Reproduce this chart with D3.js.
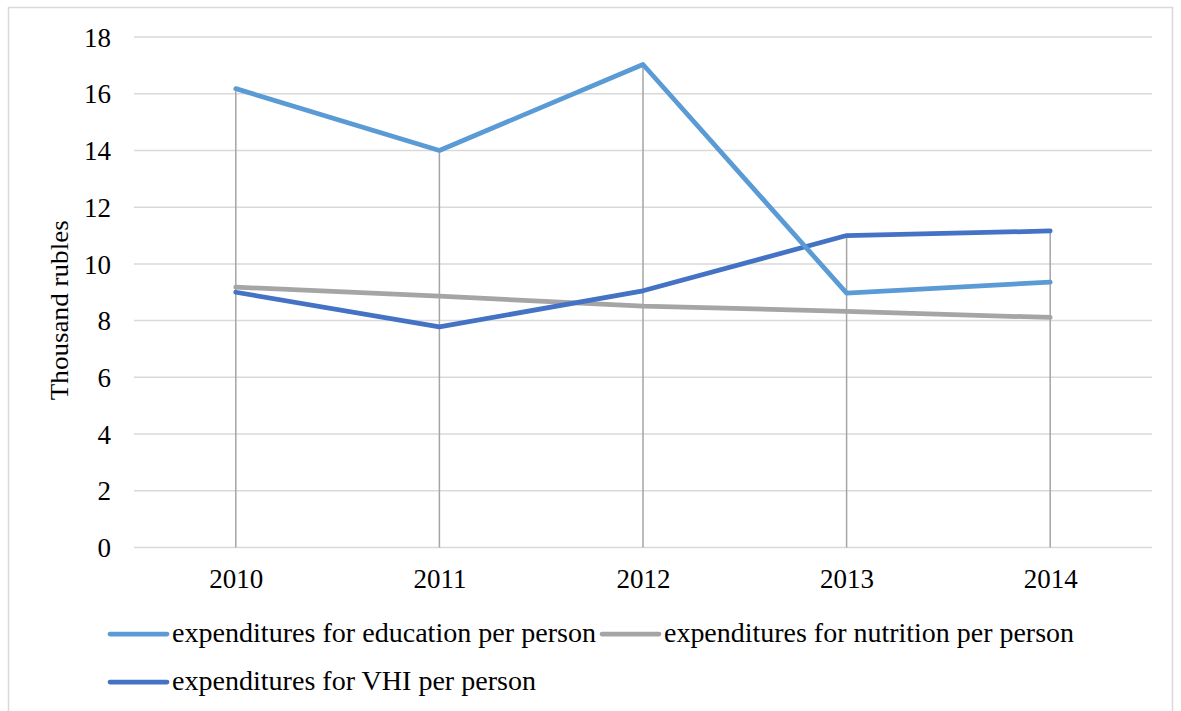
<!DOCTYPE html>
<html>
<head>
<meta charset="utf-8">
<script src="https://cdn.jsdelivr.net/npm/d3@7"></script>
<style>
  html, body { margin: 0; padding: 0; background: #fff; }
</style>
</head>
<body>
<svg id="chart" width="1181" height="711"></svg>
<script>
// Per-person expenditures, thousand rubles
const years = ["2010", "2011", "2012", "2013", "2014"];
const education = [16.18, 14.0, 17.03, 8.97, 9.36];
const nutrition = [9.18, 8.86, 8.51, 8.33, 8.11];
const vhi = [9.0, 7.78, 9.05, 11.0, 11.16];
const yTicks = [0, 2, 4, 6, 8, 10, 12, 14, 16, 18];

const series = [
  { name: "expenditures for education per person", values: education, color: "#5b9bd5" },
  { name: "expenditures for nutrition per person", values: nutrition, color: "#a5a5a5" },
  { name: "expenditures for VHI per person", values: vhi, color: "#4472c4" }
];

const FONT = "Liberation Serif";

const svg = d3.select("#chart");
const plot = { left: 134, right: 1152, top: 37, bottom: 547.5 };

// outer frame
svg.append("rect")
  .attr("x", 8.5).attr("y", 7.5)
  .attr("width", 1164).attr("height", 720)
  .attr("fill", "#fff").attr("stroke", "#d9d9d9").attr("stroke-width", 1.5);

const x = d3.scalePoint().domain(years).range([plot.left, plot.right]).padding(0.5);
const y = d3.scaleLinear().domain([0, 18]).range([plot.bottom, plot.top]);

// horizontal gridlines (including the zero line)
svg.append("g")
  .selectAll("line")
  .data(yTicks)
  .join("line")
  .attr("x1", plot.left).attr("x2", plot.right)
  .attr("y1", d => y(d)).attr("y2", d => y(d))
  .attr("stroke", "#d9d9d9").attr("stroke-width", 1.5);

// y axis labels
const yAxis = d3.axisLeft(y).tickValues(yTicks).tickSize(0).tickPadding(0);
const gy = svg.append("g").attr("transform", `translate(111,0)`).call(yAxis)
  .attr("font-family", FONT).attr("font-size", 27);
gy.select(".domain").remove();
gy.selectAll("text")
  .attr("font-family", FONT)
  .attr("font-size", 27)
  .attr("fill", "#000")
  .attr("dy", "0.34em");

// x axis labels
const xAxis = d3.axisBottom(x).tickSize(0).tickPadding(0);
const gx = svg.append("g").attr("transform", `translate(0,${plot.bottom})`).call(xAxis)
  .attr("font-family", FONT).attr("font-size", 27);
gx.select(".domain").remove();
gx.selectAll("text")
  .attr("font-family", FONT)
  .attr("font-size", 27)
  .attr("fill", "#000")
  .attr("dy", "0")
  .attr("y", 40);

// axis title
svg.append("text")
  .attr("transform", `translate(68,${(plot.top + plot.bottom) / 2 + 18}) rotate(-90)`)
  .attr("text-anchor", "middle")
  .attr("font-family", FONT)
  .attr("font-size", 26)
  .attr("textLength", 180)
  .attr("lengthAdjust", "spacingAndGlyphs")
  .text("Thousand rubles");

// drop lines from the highest point of each year to the axis
svg.append("g")
  .selectAll("line")
  .data(years)
  .join("line")
  .attr("x1", d => x(d)).attr("x2", d => x(d))
  .attr("y1", (d, i) => y(d3.max(series, s => s.values[i])))
  .attr("y2", plot.bottom)
  .attr("stroke", "#a5a5a5").attr("stroke-width", 1.5);

// series lines
const line = d3.line().x((d, i) => x(years[i])).y(d => y(d));
const drawOrder = [series[1], series[2], series[0]];
svg.append("g")
  .selectAll("path")
  .data(drawOrder)
  .join("path")
  .attr("d", s => line(s.values))
  .attr("fill", "none")
  .attr("stroke", s => s.color)
  .attr("stroke-width", 4.75)
  .attr("stroke-linecap", "round")
  .attr("stroke-linejoin", "round");

// legend
const legend = svg.append("g");
const rows = [[series[0], series[1]], [series[2]]];
const rowY = [634, 682];
const textWidths = [424, 410, 364];
let idx = 0;
rows.forEach((row, r) => {
  let cx = 110;
  row.forEach(s => {
    legend.append("line")
      .attr("x1", cx).attr("x2", cx + 57)
      .attr("y1", rowY[r]).attr("y2", rowY[r])
      .attr("stroke", s.color).attr("stroke-width", 4.75)
      .attr("stroke-linecap", "round");
    legend.append("text")
      .attr("x", cx + 62).attr("y", rowY[r] + 8)
      .attr("font-family", FONT)
      .attr("font-size", 27)
      .attr("textLength", textWidths[idx])
      .attr("lengthAdjust", "spacingAndGlyphs")
      .text(s.name);
    cx += 62 + textWidths[idx] + 6;
    idx++;
  });
});
</script>
</body>
</html>
